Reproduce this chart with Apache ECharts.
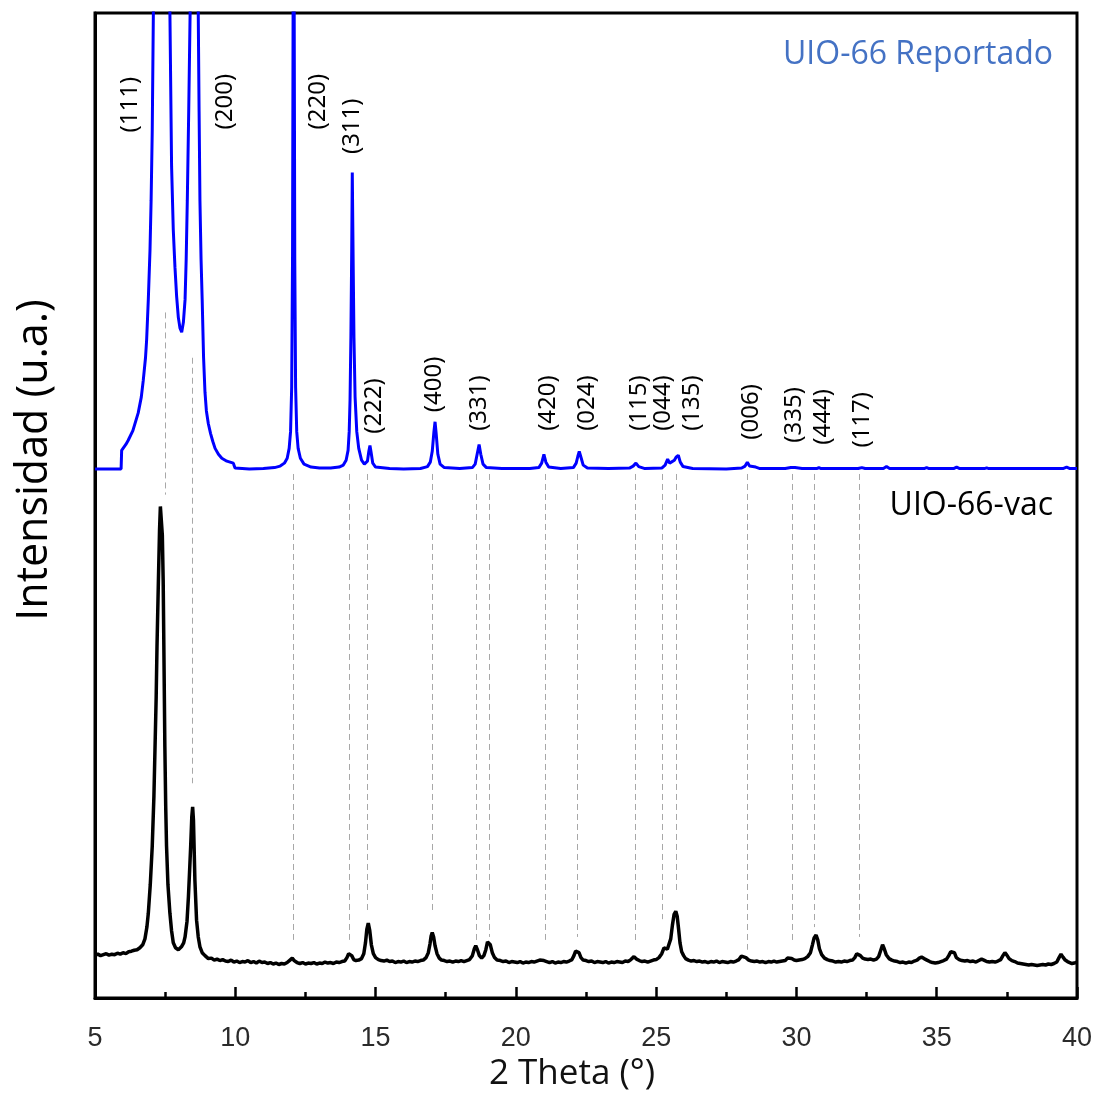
<!DOCTYPE html>
<html>
<head>
<meta charset="utf-8">
<title>UIO-66 XRD</title>
<script src="https://cdn.jsdelivr.net/npm/echarts@6/dist/echarts.min.js"></script>
<style>
  html, body { margin: 0; padding: 0; background: #ffffff; }
  #chart { width: 1097px; height: 1094px; }
</style>
</head>
<body>
<div id="chart"></div>
<script>
// Reported UIO-66 pattern (offset upward), [2θ, intensity in arbitrary units]
const reportedPattern = [
  [5.00,53.7],[5.93,53.7],[5.95,55.6],[6.10,56.2],[6.18,56.6],[6.35,57.6],[6.54,59.4],[6.65,61.0],[6.72,62.7],[6.80,65.0],
  [6.84,66.8],[6.90,70.9],[6.96,75.9],[7.00,81.0],[7.04,88.0],[7.08,100.0],[7.15,125],[7.25,150],[7.36,160],[7.48,150],
  [7.60,125],[7.67,100.0],[7.73,84.4],[7.79,78.0],[7.85,74.2],[7.91,71.2],[7.97,69.1],[8.03,68.0],[8.09,67.6],[8.15,68.6],
  [8.21,70.9],[8.25,75.0],[8.29,81.0],[8.34,90.0],[8.39,100.0],[8.47,130],[8.54,145],[8.61,130],[8.68,100.0],[8.71,90.0],
  [8.74,81.0],[8.78,75.0],[8.82,70.9],[8.87,65.0],[8.92,61.5],[8.97,59.6],[9.04,58.3],[9.12,57.3],[9.20,56.5],[9.28,55.8],
  [9.40,55.2],[9.52,54.8],[9.70,54.5],[9.93,54.3],[9.99,53.8],[10.00,53.7],[10.5,53.7],[11.0,53.75],[11.4,53.85],[11.6,54.0],
  [11.75,54.3],[11.85,54.8],[11.92,55.8],[11.97,57.5],[12.01,62.0],[12.04,75.0],[12.06,100],[12.08,130],[12.10,100],[12.12,75.0],
  [12.15,62.0],[12.19,57.5],[12.24,55.8],[12.32,54.8],[12.45,54.2],[12.7,53.9],[13.0,53.8],[13.4,53.8],[13.7,53.9],[13.85,54.1],
  [13.95,54.6],[14.02,55.6],[14.06,57.5],[14.09,60.7],[14.12,67.0],[14.15,76.0],[14.17,83.8],[14.20,75.0],[14.23,67.0],[14.27,61.0],
  [14.33,57.5],[14.40,55.8],[14.50,54.6],[14.60,54.2],[14.65,54.1],[14.71,54.5],[14.76,55.5],[14.80,56.1],[14.84,55.4],[14.90,54.3],
  [15.00,53.9],[15.5,53.75],[16.0,53.7],[16.6,53.75],[16.85,53.95],[16.95,54.4],[17.02,55.5],[17.08,57.5],[17.12,58.5],[17.16,57.3],
  [17.22,55.2],[17.30,54.2],[17.45,53.85],[18.0,53.75],[18.45,53.85],[18.55,54.2],[18.62,55.2],[18.69,56.2],[18.75,55.2],[18.83,54.2],
  [18.95,53.85],[19.5,53.75],[20.5,53.75],[20.82,53.85],[20.92,54.3],[21.00,55.2],[21.07,54.4],[21.17,53.9],[21.6,53.75],[22.05,53.85],
  [22.15,54.3],[22.21,55.0],[22.26,55.5],[22.32,54.9],[22.40,54.1],[22.55,53.8],[23.3,53.75],[24.05,53.8],[24.18,54.0],[24.28,54.3],
  [24.38,53.95],[24.6,53.75],[25.2,53.8],[25.32,54.1],[25.41,54.7],[25.48,54.3],[25.55,54.2],[25.65,54.6],[25.71,54.9],[25.79,55.1],
  [25.86,54.4],[25.96,53.95],[26.3,53.75],[27.5,53.7],[28.05,53.8],[28.17,54.0],[28.25,54.4],[28.33,54.0],[28.40,53.85],[28.55,53.9],
  [28.7,53.75],[29.6,53.75],[29.80,53.85],[29.87,54.0],[29.95,53.85],[30.2,53.75],[30.72,53.75],[30.80,53.85],[30.88,53.75],[32.2,53.75],
  [32.33,53.85],[32.45,53.75],[33.1,53.75],[33.21,53.95],[33.32,53.75],[34.55,53.75],[34.64,53.85],[34.73,53.75],[35.6,53.75],[35.71,53.9],
  [35.82,53.75],[36.7,53.75],[36.78,53.82],[36.86,53.75],[39.5,53.75],[39.63,53.9],[39.75,53.75],[40.0,53.75]
];

// Measured UIO-66-vac pattern, [2θ, intensity in arbitrary units]
const measuredPattern = [
  [5.00,4.35],[5.10,4.45],[5.20,4.30],[5.30,4.40],[5.40,4.50],[5.50,4.35],[5.60,4.45],[5.70,4.40],[5.80,4.55],[5.90,4.45],
  [6.00,4.60],[6.10,4.50],[6.20,4.70],[6.30,4.75],[6.40,4.85],[6.50,4.90],[6.60,5.10],[6.70,5.40],[6.78,6.00],[6.85,7.20],
  [6.90,8.60],[6.97,11.5],[7.04,15.4],[7.10,20.5],[7.14,25.5],[7.18,30.5],[7.21,35.7],[7.26,42.4],[7.30,47.5],[7.33,49.9],
  [7.38,49.9],[7.40,47.0],[7.43,42.4],[7.46,34.0],[7.49,25.5],[7.52,19.5],[7.55,15.4],[7.60,11.5],[7.67,8.6],[7.73,6.8],
  [7.79,5.6],[7.87,5.1],[7.97,4.9],[8.08,5.2],[8.16,5.6],[8.21,6.2],[8.28,7.8],[8.33,10.3],[8.37,12.8],[8.41,15.4],
  [8.45,18.4],[8.48,19.4],[8.51,18.0],[8.56,12.0],[8.62,7.9],[8.68,6.2],[8.74,5.2],[8.82,4.6],[8.92,4.3],[9.04,4.0],
  [9.15,4.05],[9.25,3.85],[9.35,3.95],[9.45,3.80],[9.55,3.90],[9.65,3.75],[9.75,3.70],[9.85,3.85],[9.95,3.65],[10.05,3.75],
  [10.15,3.60],[10.25,3.70],[10.35,3.65],[10.45,3.80],[10.55,3.60],[10.65,3.70],[10.75,3.55],[10.85,3.75],[10.95,3.60],[11.05,3.65],
  [11.15,3.50],[11.25,3.60],[11.35,3.45],[11.45,3.55],[11.55,3.40],[11.65,3.50],[11.75,3.45],[11.85,3.60],[11.95,3.85],[12.03,4.05],
  [12.10,3.80],[12.20,3.60],[12.30,3.50],[12.40,3.60],[12.50,3.45],[12.60,3.55],[12.70,3.50],[12.80,3.60],[12.90,3.45],[13.00,3.55],
  [13.10,3.50],[13.20,3.65],[13.30,3.55],[13.40,3.60],[13.50,3.50],[13.60,3.65],[13.70,3.60],[13.80,3.70],[13.90,3.75],[13.98,4.10],
  [14.04,4.50],[14.09,4.65],[14.15,4.30],[14.22,3.90],[14.30,3.80],[14.40,3.85],[14.50,4.00],[14.58,4.50],[14.64,5.60],[14.69,7.00],
  [14.74,7.60],[14.79,6.90],[14.85,5.40],[14.92,4.50],[15.00,4.10],[15.10,3.90],[15.20,3.80],[15.30,3.75],[15.40,3.85],[15.50,3.70],
  [15.60,3.75],[15.70,3.60],[15.80,3.70],[15.90,3.65],[16.00,3.75],[16.10,3.60],[16.20,3.70],[16.30,3.65],[16.40,3.75],[16.50,3.70],
  [16.60,3.80],[16.70,3.85],[16.80,4.10],[16.88,4.60],[16.94,5.50],[16.98,6.30],[17.02,6.65],[17.07,6.20],[17.12,5.30],[17.19,4.50],
  [17.27,4.05],[17.35,3.85],[17.45,3.80],[17.55,3.70],[17.65,3.75],[17.75,3.65],[17.85,3.75],[17.95,3.70],[18.05,3.80],[18.15,3.70],
  [18.25,3.80],[18.35,3.90],[18.45,4.30],[18.52,5.00],[18.57,5.30],[18.63,4.90],[18.70,4.30],[18.78,4.05],[18.86,4.30],[18.93,4.90],
  [18.99,5.70],[19.04,5.90],[19.09,5.40],[19.16,4.60],[19.24,4.10],[19.33,3.85],[19.45,3.80],[19.55,3.70],[19.65,3.75],[19.75,3.60],
  [19.85,3.70],[19.95,3.65],[20.05,3.60],[20.15,3.70],[20.25,3.55],[20.35,3.65],[20.45,3.60],[20.55,3.70],[20.65,3.65],[20.75,3.75],
  [20.85,3.85],[20.92,3.95],[21.00,3.80],[21.10,3.70],[21.20,3.60],[21.30,3.70],[21.40,3.55],[21.50,3.65],[21.60,3.60],[21.70,3.70],
  [21.80,3.65],[21.90,3.75],[22.00,3.90],[22.07,4.30],[22.13,4.75],[22.19,4.90],[22.25,4.60],[22.32,4.10],[22.40,3.85],[22.50,3.80],
  [22.60,3.70],[22.70,3.75],[22.80,3.60],[22.90,3.70],[23.00,3.65],[23.10,3.60],[23.20,3.70],[23.30,3.55],[23.40,3.65],[23.50,3.60],
  [23.60,3.70],[23.70,3.65],[23.80,3.60],[23.90,3.75],[24.00,3.70],[24.10,3.90],[24.21,4.20],[24.30,3.95],[24.40,3.80],[24.50,3.70],
  [24.60,3.75],[24.70,3.65],[24.80,3.75],[24.90,3.85],[25.00,3.90],[25.10,4.10],[25.20,4.50],[25.28,5.10],[25.33,5.20],[25.40,4.95],
  [25.46,5.10],[25.52,6.00],[25.58,7.40],[25.64,8.50],[25.70,8.80],[25.75,8.30],[25.80,7.00],[25.85,5.60],[25.91,4.70],[25.98,4.30],
  [26.05,4.00],[26.15,3.85],[26.25,3.75],[26.35,3.80],[26.45,3.70],[26.55,3.75],[26.65,3.65],[26.75,3.70],[26.85,3.60],[26.95,3.70],
  [27.05,3.65],[27.15,3.75],[27.25,3.60],[27.35,3.70],[27.45,3.65],[27.55,3.60],[27.65,3.70],[27.75,3.65],[27.85,3.75],[27.95,3.90],
  [28.04,4.25],[28.11,4.40],[28.20,4.10],[28.30,3.85],[28.40,3.75],[28.50,3.70],[28.60,3.75],[28.70,3.65],[28.80,3.70],[28.90,3.60],
  [29.00,3.70],[29.10,3.65],[29.20,3.75],[29.30,3.65],[29.40,3.70],[29.50,3.75],[29.60,3.80],[29.68,4.05],[29.75,4.20],[29.83,4.00],
  [29.92,3.85],[30.00,3.80],[30.10,3.85],[30.20,3.90],[30.30,4.00],[30.40,4.20],[30.50,4.60],[30.57,5.40],[30.63,6.10],[30.70,6.40],
  [30.76,5.90],[30.82,5.00],[30.90,4.40],[31.00,4.05],[31.10,3.90],[31.20,3.80],[31.30,3.75],[31.40,3.65],[31.50,3.70],[31.60,3.65],
  [31.70,3.75],[31.80,3.70],[31.90,3.80],[32.00,3.85],[32.08,4.10],[32.15,4.50],[32.21,4.60],[32.28,4.30],[32.36,4.05],[32.45,3.95],
  [32.55,3.90],[32.65,3.95],[32.75,3.85],[32.85,3.95],[32.93,4.20],[33.00,4.80],[33.07,5.40],[33.13,5.00],[33.20,4.40],[33.30,4.00],
  [33.40,3.85],[33.50,3.75],[33.60,3.70],[33.70,3.60],[33.80,3.65],[33.90,3.55],[34.00,3.65],[34.10,3.60],[34.20,3.75],[34.30,3.85],
  [34.38,4.05],[34.46,4.15],[34.55,4.00],[34.65,3.85],[34.75,3.70],[34.85,3.60],[34.95,3.55],[35.05,3.60],[35.15,3.70],[35.25,3.80],
  [35.35,3.95],[35.43,4.30],[35.50,4.70],[35.57,4.90],[35.63,4.60],[35.70,4.10],[35.80,3.90],[35.90,3.80],[36.00,3.75],[36.10,3.80],
  [36.20,3.70],[36.30,3.75],[36.40,3.65],[36.50,3.80],[36.60,3.95],[36.68,3.85],[36.78,3.70],[36.88,3.65],[36.98,3.70],[37.08,3.65],
  [37.18,3.75],[37.28,3.90],[37.36,4.30],[37.43,4.60],[37.50,4.35],[37.58,4.00],[37.68,3.80],[37.78,3.70],[37.88,3.55],[37.98,3.50],
  [38.08,3.45],[38.18,3.40],[38.28,3.35],[38.38,3.40],[38.48,3.35],[38.58,3.30],[38.68,3.35],[38.78,3.40],[38.88,3.35],[38.98,3.45],
  [39.08,3.40],[39.18,3.50],[39.28,3.65],[39.36,4.10],[39.43,4.45],[39.50,4.15],[39.58,3.85],[39.66,3.70],[39.74,3.60],[39.82,3.50],
  [39.90,3.55],[40.00,3.65]
];

// Miller index labels: text, 2θ of label centre, height of label centre
const hklLabels = ['(111)','(200)','(220)','(311)','(222)','(400)','(331)','(420)','(024)','(115)','(044)','(135)','(006)','(335)','(444)','(117)'];
const hklLabelX = [6.25, 9.63, 12.95, 14.16, 14.94, 17.08, 18.69, 21.15, 22.54, 24.39, 25.24, 26.28, 28.38, 29.91, 30.95, 32.34];
const hklLabelY = [90.7, 91.0, 91.0, 88.5, 60.1, 62.3, 60.4, 60.4, 60.4, 60.4, 60.4, 60.4, 59.5, 59.2, 59.0, 58.7];

// Dashed guides linking reflections of both patterns: 2θ, upper end, lower end
const guideX      = [7.49, 8.48, 12.07, 14.06, 14.71, 17.02, 18.58, 19.05, 21.06, 22.18, 24.25, 25.20, 25.73, 28.23, 29.85, 30.64, 32.23];
const guideTop    = [69.6, 65.0, 53.2, 53.2, 53.2, 53.2, 53.2, 53.2, 53.2, 53.2, 53.2, 53.2, 53.2, 53.2, 53.2, 53.2, 53.2];
const guideBottom = [51.1, 21.8, 5.9, 5.9, 8.6, 8.6, 5.6, 6.2, 5.9, 6.2, 5.7, 8.0, 10.7, 4.9, 5.7, 7.2, 6.2];

// Axis settings
const xMin = 5, xMax = 40, xStep = 5;

const chart = echarts.init(document.getElementById('chart'), null, { renderer: 'canvas' });

const guideLines = guideX.map((x, i) => [
  { coord: [x, guideTop[i]] },
  { coord: [x, guideBottom[i]] }
]);

const labelPoints = hklLabels.map((t, i) => ({ value: [hklLabelX[i], hklLabelY[i]], name: t }));

const option = {
  backgroundColor: '#ffffff',
  animation: false,
  grid: {
    left: 95, right: 20, top: 13, bottom: 96,
    show: true, borderColor: '#000', borderWidth: 3, backgroundColor: 'transparent'
  },
  xAxis: {
    type: 'value', min: xMin, max: xMax, interval: xStep,
    axisLine: { show: true, onZero: false, lineStyle: { color: '#000', width: 3 } },
    axisTick: { show: true, inside: true, length: 11, lineStyle: { color: '#000', width: 2.5 } },
    minorTick: { show: true, splitNumber: 2, length: 6, lineStyle: { color: '#000', width: 2.5 } },
    splitLine: { show: false },
    axisLabel: { color: '#2a2a2a', fontSize: 27, fontFamily: 'Liberation Sans, Arial, sans-serif', margin: 27 }
  },
  yAxis: {
    type: 'value', min: 0, max: 100,
    axisLine: { show: true, onZero: false, lineStyle: { color: '#000', width: 3 } },
    axisTick: { show: false },
    axisLabel: { show: false },
    splitLine: { show: false }
  },
  series: [
    {
      name: 'UIO-66 Reportado', type: 'line', data: reportedPattern, showSymbol: false,
      clip: true, z: 3,
      lineStyle: { color: '#0000ff', width: 3 },
      markLine: {
        silent: true, symbol: ['none', 'none'], label: { show: false },
        lineStyle: { color: '#a8a8a8', width: 1, type: [6, 4] },
        data: guideLines
      }
    },
    {
      name: 'UIO-66-vac', type: 'line', data: measuredPattern, showSymbol: false,
      clip: true, z: 4,
      lineStyle: { color: '#000000', width: 3.5 }
    },
    {
      name: 'hkl', type: 'scatter', data: labelPoints, symbolSize: 1,
      itemStyle: { color: 'rgba(0,0,0,0)', opacity: 1 }, silent: true, z: 5,
      label: {
        show: true, position: 'inside', rotate: 90, formatter: p => p.name,
        color: '#000', opacity: 1, fontSize: 24, fontFamily: 'Noto Sans, Open Sans, sans-serif',
        textBorderWidth: 0
      }
    }
  ],
  graphic: [
    {
      type: 'text', x: 1053, y: 55,
      style: { text: 'UIO-66 Reportado', fill: '#4472c4', font: '32px "Open Sans", "Noto Sans", sans-serif', textAlign: 'right', textVerticalAlign: 'middle' }
    },
    {
      type: 'text', x: 1053, y: 506,
      style: { text: 'UIO-66-vac', fill: '#000', font: '32px "Open Sans", "Noto Sans", sans-serif', textAlign: 'right', textVerticalAlign: 'middle' }
    },
    {
      type: 'text', x: 35, y: 460, rotation: Math.PI / 2,
      style: { text: 'Intensidad (u.a.)', fill: '#000', font: '43px "Open Sans", "Noto Sans", sans-serif', textAlign: 'center', textVerticalAlign: 'middle' }
    },
    {
      type: 'text', x: 572, y: 1074,
      style: { text: '2 Theta (°)', fill: '#111', font: '35px "Open Sans", "Noto Sans", sans-serif', textAlign: 'center', textVerticalAlign: 'middle' }
    }
  ]
};

chart.setOption(option);
</script>
</body>
</html>
